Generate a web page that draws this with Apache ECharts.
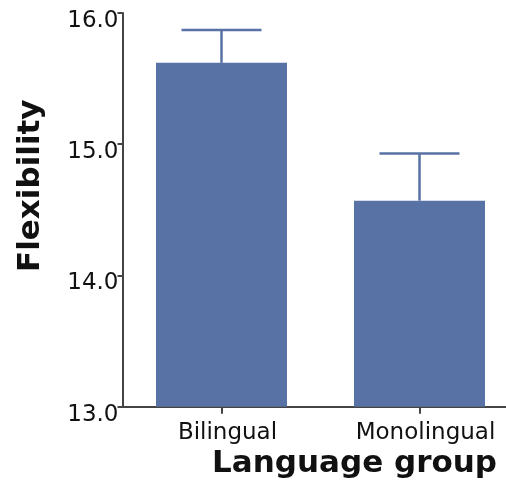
<!DOCTYPE html>
<html>
<head>
<meta charset="utf-8">
<script src="https://cdn.jsdelivr.net/npm/echarts@6/dist/echarts.min.js"></script>
<style>
  html, body { margin: 0; padding: 0; background: #fff; }
  #chart { width: 506px; height: 484px; }
</style>
</head>
<body>
<div id="chart"></div>
<script>
// Mean flexibility score per language group, with the upper error limit
const groups = ['Bilingual', 'Monolingual'];
const means = [15.62, 14.57];
const upperErr = [15.87, 14.93];
const yTicks = [13, 14, 15, 16];

const barColor = '#5872a5';
const axisColor = '#444444';
const font = 'DejaVu Sans';

const chart = echarts.init(document.getElementById('chart'), null, { renderer: 'canvas' });

// groups sit at positions 0, 1 on a numeric x axis; each group band is
// 198 px wide and the last band runs past the right edge of the canvas
const positions = groups.map((g, i) => i);
const xMin = -0.5;
const xMax = -0.5 + 383.5 / 198;

chart.setOption({
  animation: false,
  backgroundColor: '#ffffff',
  grid: { left: 122.5, top: 13, right: 0, bottom: 77.3, containLabel: false },
  xAxis: {
    type: 'value',
    min: xMin,
    max: xMax,
    splitLine: { show: false },
    axisLine: { show: true, onZero: false, lineStyle: { color: axisColor, width: 2 } },
    axisTick: { show: true, customValues: positions, length: 7, lineStyle: { color: axisColor, width: 2 } },
    axisLabel: {
      show: true, customValues: positions,
      color: '#111', fontFamily: font, fontSize: 23, margin: 15,
      padding: [0, 0, 0, 12],
      formatter: v => groups[Math.round(v)]
    }
  },
  yAxis: {
    type: 'value',
    min: yTicks[0],
    max: yTicks[yTicks.length - 1],
    interval: 1,
    splitLine: { show: false },
    axisLine: { show: true, onZero: false, lineStyle: { color: axisColor, width: 2 } },
    axisTick: { show: true, length: 5, lineStyle: { color: axisColor, width: 2 } },
    axisLabel: {
      color: '#111', fontFamily: font, fontSize: 23, margin: 4,
      verticalAlign: 'top', lineHeight: 16,
      formatter: v => v.toFixed(1)
    }
  },
  series: [
    {
      type: 'bar',
      data: positions.map(i => [i, means[i]]),
      barWidth: 131,
      itemStyle: { color: barColor },
      z: 1
    },
    {
      type: 'custom',
      data: positions.map(i => [i, means[i], upperErr[i]]),
      z: 3,
      renderItem: function (params, api) {
        const x = api.value(0);
        const base = api.coord([x, api.value(1)]);
        const top = api.coord([x, api.value(2)]);
        const half = 40;
        const style = { stroke: barColor, lineWidth: 2.5, fill: null };
        return {
          type: 'group',
          children: [
            { type: 'line', shape: { x1: base[0], y1: base[1], x2: top[0], y2: top[1] }, style: style },
            { type: 'line', shape: { x1: top[0] - half, y1: top[1], x2: top[0] + half, y2: top[1] }, style: style }
          ]
        };
      }
    }
  ],
  graphic: [
    {
      type: 'text',
      right: 9,
      top: 448,
      style: { text: 'Language group', font: 'bold 31px "DejaVu Sans"', fill: '#111' }
    },
    {
      type: 'text',
      rotation: Math.PI / 2,
      x: 15,
      y: 272,
      style: { text: 'Flexibility', font: 'bold 31px "DejaVu Sans"', fill: '#111', textVerticalAlign: 'top' }
    }
  ]
});
</script>
</body>
</html>
